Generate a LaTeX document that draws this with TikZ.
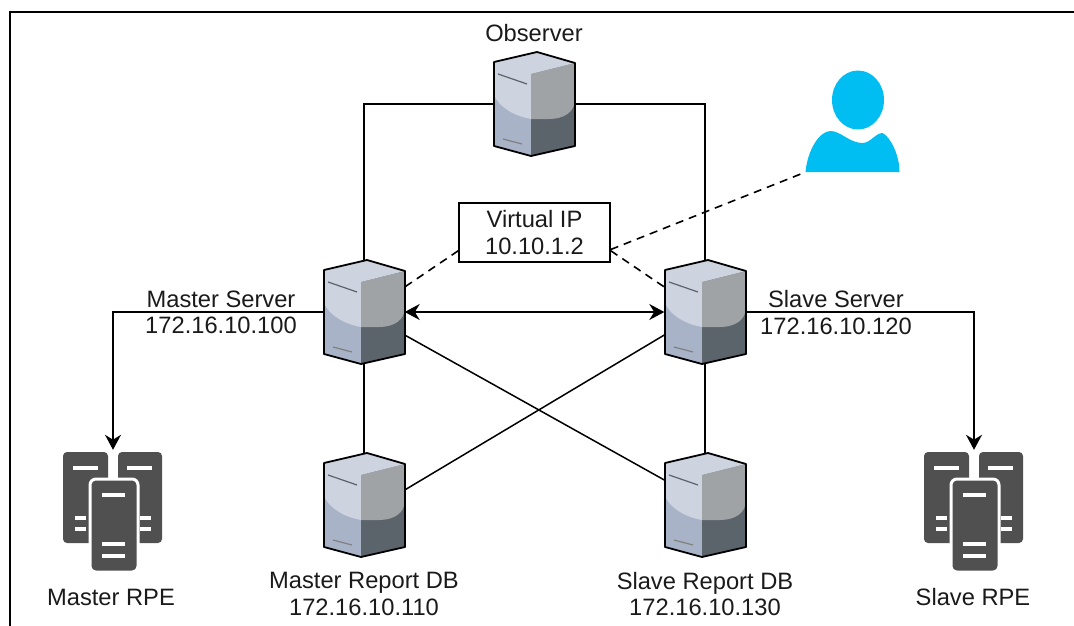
\documentclass[tikz,border=0pt]{standalone}
\usepackage{xcolor}
\usepackage{fontspec}
\setmainfont{Liberation Sans}
\usetikzlibrary{positioning,arrows.meta}
\definecolor{srvlight}{HTML}{CDD3DF}
\definecolor{srvleft}{HTML}{A9B3C8}
\definecolor{srvright}{HTML}{A0A3A5}
\definecolor{srvdark}{HTML}{5B636B}
\definecolor{rackgray}{HTML}{505050}
\definecolor{usercyan}{HTML}{00BEF2}
\definecolor{labelgray}{HTML}{1A1A1A}
\tikzset{
  srvbox/.style={minimum width=81pt, minimum height=104pt, inner sep=0pt},
  rackbox/.style={minimum width=99pt, minimum height=120pt, inner sep=0pt},
  userbox/.style={minimum width=94pt, minimum height=74pt, inner sep=0pt},
  lbl/.style={font=\fontsize{23.7}{26.5}\selectfont, text=labelgray, align=center, inner sep=0pt},
  link/.style={line width=1.5pt},
  dashlink/.style={line width=1.6pt, dash pattern=on 8pt off 6pt},
  server/.pic={
    \fill[srvleft] (-40,-42) -- (3,-52) -- (41,-41) -- (41,42) -- (-3,52) -- (-40,42) -- cycle;
    \fill[srvdark] (-3,-30) -- (41,-41) -- (41,42) -- (-3,52) -- cycle;
    \fill[srvlight] (-40,-42) -- (3,-52) -- (41,-41) -- (-3,-30) -- (-3,15) .. controls (-20,12) and (-35,3) .. (-40,-9) -- cycle;
    \fill[srvright] (-3,-30) -- (41,-41) -- (41,-5) .. controls (41,8) and (30,15) .. (15,15) -- (-3,15) -- cycle;
    \draw[line width=1.2pt, srvdark] (-36,-30) -- (-7,-20);
    \draw[line width=1.2pt, gray] (-31,35) -- (-12,40);
    \draw[line width=1.8pt, black, line join=round] (-40,-42) -- (3,-52) -- (41,-41) -- (41,42) -- (-3,52) -- (-40,42) -- cycle;
  },
  rack/.pic={
    \fill[rackgray, rounded corners=4pt] (-50,31) -- (-50,-60) -- (-5,-60) -- (-5,31) -- cycle;
    \fill[rackgray, rounded corners=4pt] (5,31) -- (5,-60) -- (49,-60) -- (49,31) -- cycle;
    \fill[rackgray, draw=white, line width=3pt, rounded corners=6pt] (-23,60) -- (-23,-33) -- (25,-33) -- (25,60) -- cycle;
    \draw[white, line width=3.5pt]
      (-40,-44) -- (-15,-44)  (14,-44) -- (39,-44)
      (-38,6) -- (-27,6)  (-38,17) -- (-27,17)
      (27,6) -- (38,6)  (27,17) -- (38,17)
      (-11,-17) -- (12,-17)  (-11,32) -- (12,32)  (-11,44) -- (12,44);
  },
  person/.pic={
    \fill[usercyan] (5.5,-35) ellipse [x radius=26pt, y radius=29.5pt];
    \fill[usercyan] (-47,37) .. controls (-45,15) and (-33,-4) .. (-22,-4)
      .. controls (-12,-4) and (-3,8) .. (10,8)
      .. controls (18,8) and (23,-2) .. (30,-2)
      .. controls (38,2) and (47,20) .. (47,37) -- cycle;
  },
}
\begin{document}
\begin{tikzpicture}[x=1pt,y=-1pt,>={Stealth[length=15pt,width=16pt]}]
            \useasboundingbox (0,0) rectangle (1074,626);
            % Frame
            \coordinate (fb) at (10,626);
            \coordinate (fc) at (10,12);
            \coordinate (fr) at (1074,12);
            \draw[line width=2pt] (fb) -- (fc) -- (fr);

            % Servers
            \node[srvbox] (obs) at (534,104) {};
            \node[srvbox] (ms) at (364,312) {};
            \node[srvbox] (ss) at (705,312) {};
            \node[srvbox] (mr) at (364,505) {};
            \node[srvbox] (sr) at (705,505) {};
            \node[rackbox] (mp) at (113,510) {};
            \node[rackbox] (sp) at (974,510) {};
            \node[userbox] (usr) at (852.5,135) {};
            \node[draw, line width=1.5pt, minimum width=151pt, minimum height=59pt, inner sep=0pt, lbl] (vip) at (534.5,232.5) {Virtual IP\\10.10.1.2};

            % Connections
            \draw[link] (obs.west) -| (ms.north);
            \draw[link] (obs.east) -| (ss.north);
            \draw[link] (ms.south) -- (mr.north);
            \draw[link] (ss.south) -- (sr.north);
            \draw[link] ([yshift=-23pt]ms.east) -- ([yshift=25pt]sr.west);
            \draw[link] ([yshift=15pt]mr.east) -- ([yshift=-23pt]ss.west);
            \draw[link,<->] (ms.east) -- (ss.west);
            \draw[link,->] (ms.west) -| (mp.north);
            \draw[link,->] (ss.east) -| (sp.north);

            % Virtual IP
            \draw[dashlink] ([yshift=-17pt]vip.east) -- (usr.south west);
            \draw[dashlink] ([yshift=12pt]vip.south west) -- ([yshift=25pt]ms.east);
            \draw[dashlink] ([yshift=12pt]vip.south east) -- ([yshift=25pt]ss.west);

            % Icons
            \pic at (obs) {server};
            \pic at (ms) {server};
            \pic at (ss) {server};
            \pic at ([yshift=0pt]mr) {server};
            \pic at (sr) {server};
            \pic at ([yshift=-2pt]mp) {rack};
            \pic at ([yshift=-2pt]sp) {rack};
            \pic at (usr) {person};

            % Labels
            \node[lbl] (lobs) at (534,33) {Observer};
            \node[lbl] (lms) at (221,312.5) {Master Server\\172.16.10.100};
            \node[lbl] (lss) at (836,312.5) {Slave Server\\172.16.10.120};
            \node[lbl] (lmr) at (364,594) {Master Report DB\\172.16.10.110};
            \node[lbl] (lsr) at (705,594) {Slave Report DB\\172.16.10.130};
            \node[lbl] (lmp) at (111,597) {Master RPE};
            \node[lbl] (lsp) at (973,597) {Slave RPE};
\end{tikzpicture}
\end{document}
